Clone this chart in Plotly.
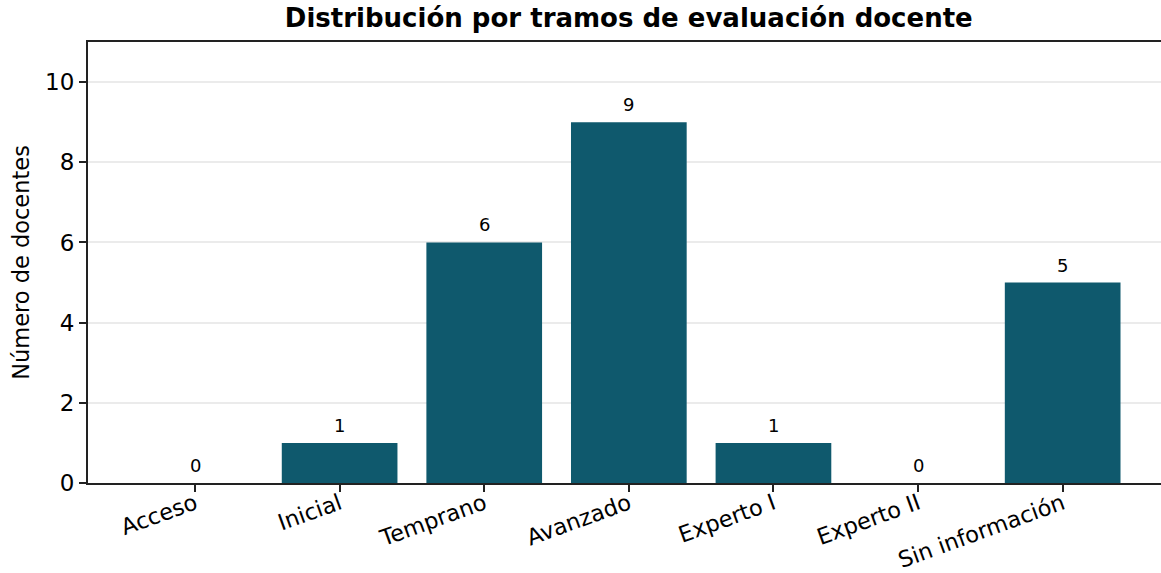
import plotly.graph_objects as go

# ------------------------------- data -------------------------------
tramos = ['Acceso', 'Inicial', 'Temprano', 'Avanzado', 'Experto I', 'Experto II', 'Sin información']
docentes = [0, 1, 6, 9, 1, 0, 5]

bar_color = '#0f596d'
font_family = 'DejaVu Sans'

# ------------------------------- plot -------------------------------
layout = go.Layout(
    title=dict(text='<b>Distribución por tramos de evaluación docente</b>',
               x=0.504, xref='paper', xanchor='center', y=0.968, yanchor='middle',
               font=dict(size=26, color='#000')),
    width=1161, height=573,
    margin=dict(l=88, r=0, t=42, b=90),
    plot_bgcolor='white', paper_bgcolor='white',
    font=dict(family=font_family, color='#000'),
    showlegend=False,
)
fig = go.Figure(layout=layout)

fig.add_trace(go.Bar(x=list(range(len(tramos))), y=docentes,
                     marker=dict(color=bar_color, line_width=0), width=0.8))

# value labels above each bar
for i, v in enumerate(docentes):
    fig.add_annotation(x=i, y=v, text=str(v), showarrow=False,
                       yanchor='bottom', yshift=5, font=dict(size=18, color='#000'))

fig.update_xaxes(range=[-0.74, 6.68], tickmode='array',
                 tickvals=list(range(len(tramos))), ticktext=tramos,
                 tickangle=-20, tickfont=dict(size=22.5), ticklabelstandoff=-10,
                 showline=True, linecolor='#222', linewidth=2, mirror=True,
                 ticks='outside', ticklen=7, tickwidth=1.5, tickcolor='#222',
                 showgrid=False, zeroline=False, automargin=False)

fig.update_yaxes(range=[0, 11], tickvals=[0, 2, 4, 6, 8, 10], tickfont=dict(size=23),
                 title=dict(text='Número de docentes', font=dict(size=22.5), standoff=9),
                 showline=True, linecolor='#222', linewidth=2,
                 ticks='outside', ticklen=7, tickwidth=1.5, tickcolor='#222',
                 showgrid=True, gridcolor='rgba(190,190,190,0.3)', gridwidth=1.5,
                 zeroline=False, layer='above traces', automargin=False)

fig.write_html("out.html", config={'displayModeBar': False},
               post_script="document.body.style.margin='0';")
